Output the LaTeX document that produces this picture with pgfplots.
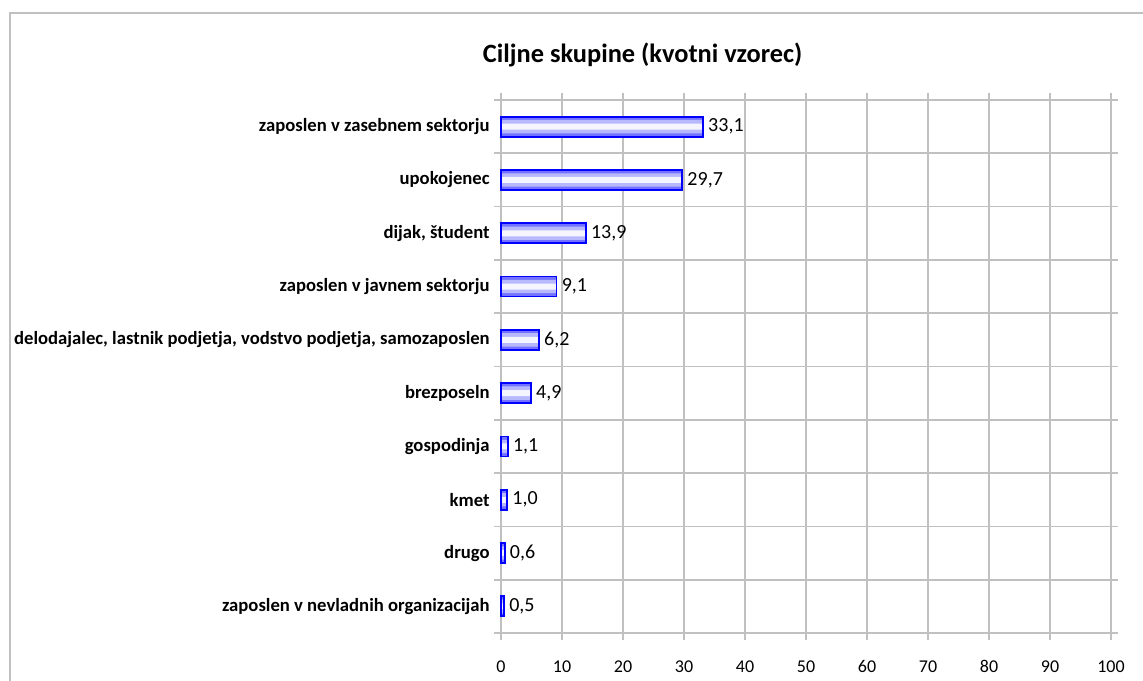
\documentclass[border=0pt]{standalone}
\usepackage{fontspec}
\setmainfont{Carlito}
\usepackage{pgfplots}
\usepackage{pgfplotstable}
\pgfplotsset{compat=1.18}
\definecolor{gridc}{RGB}{192,192,192}
\definecolor{barblue}{RGB}{0,0,255}
\pgfplotstableread{
x y
0.5 1
0.6 2
1.0 3
1.1 4
4.9 5
6.2 6
9.1 7
13.9 8
29.7 9
33.1 10
}\datatable
\begin{document}
\begin{tikzpicture}
\useasboundingbox (0,0) rectangle (857.25pt,-510.75pt);
\draw[gridc, line width=1.5pt] (7.5pt,-520pt) -- (7.5pt,-9.75pt) -- (870pt,-9.75pt);
\node[font=\fontsize{19.8}{23}\selectfont\bfseries] at (482pt,-41pt) {Ciljne skupine (kvotni vzorec)};
\begin{axis}[
  at={(375.75pt,-474.75pt)}, anchor=south west,
  scale only axis, width=457.5pt, height=399.75pt,
  xmin=0, xmax=100, ymin=0.5, ymax=10.5,
  xtick={0,10,...,100},
  ytick={0.5,1.5,2.5,3.5,4.5,5.5,6.5,7.5,8.5,9.5,10.5},
  yticklabels={},
  extra y ticks={1,2,3,4,5,6,7,8,9,10},
  extra y tick labels={zaposlen v nevladnih organizacijah, drugo, kmet, gospodinja, brezposeln, {delodajalec, lastnik podjetja, vodstvo podjetja, samozaposlen}, zaposlen v javnem sektorju, {dijak, študent}, upokojenec, zaposlen v zasebnem sektorju},
  extra y tick style={ymajorgrids=false, major tick length=0pt},
  xmajorgrids=true, ymajorgrids=true,
  grid style={gridc, line width=1.2pt},
  axis line style={gridc, line width=1.2pt},
  tick style={gridc, line width=1.2pt},
  tick align=outside,
  major tick length=5pt,
  yticklabel style={font=\fontsize{14}{16}\selectfont\bfseries, xshift=-5pt},
  xticklabel style={font=\fontsize{13.5}{16}\selectfont, yshift=-11pt, text height=10pt, text depth=0pt},
  /pgf/number format/assume math mode=true,
  clip=false,
]
\addplot[xbar, bar shift=0pt, bar width=15pt, draw=none, fill=blue!55] table[x=x,y=y] {\datatable};
\addplot[xbar, bar shift=0pt, bar width=10pt, draw=none, fill=blue!28] table[x=x,y=y] {\datatable};
\addplot[xbar, bar shift=0pt, bar width=4.5pt, draw=none, fill=blue!4] table[x=x,y=y] {\datatable};
\addplot[xbar, bar shift=0pt, bar width=15pt, draw=barblue, line width=1.3pt, fill=none,
  nodes near coords={\pgfmathprintnumber[fixed, fixed zerofill, precision=1, use comma]{\pgfplotspointmeta}},
  nodes near coords style={font=\fontsize{15}{17}\selectfont, anchor=west, text=black, /pgf/number format/assume math mode=true}]
  table[x=x,y=y] {\datatable};
\end{axis}
\end{tikzpicture}
\end{document}
